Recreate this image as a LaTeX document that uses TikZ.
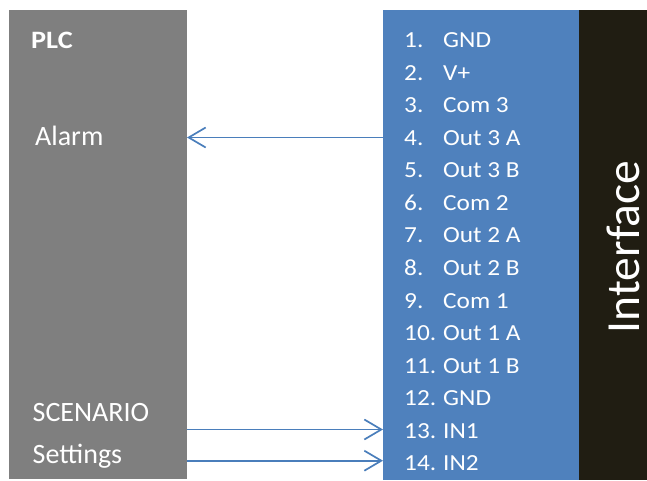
\documentclass[tikz,border=0pt]{standalone}
\usepackage{fontspec}
\setmainfont{Carlito}
\newfontfamily\listfont{Carlito}[FakeStretch=1.1]
\usetikzlibrary{arrows.meta}
\definecolor{plcgrey}{HTML}{7F7F7F}
\definecolor{ifblue}{HTML}{4F81BD}
\definecolor{ifdark}{HTML}{201D12}
\definecolor{arrblue}{HTML}{4A7EBB}
\tikzset{
  box/.style={draw=none, inner sep=0pt, outer sep=0pt},
  lbl/.style={inner sep=0pt, anchor=base west, text=white, font=\fontsize{28}{32}\selectfont},
  pinnum/.style={inner sep=0pt, anchor=base west, text=white, font=\listfont\fontsize{23}{26}\selectfont},
  pintxt/.style={inner sep=0pt, anchor=base west, text=white, font=\listfont\fontsize{23}{26}\selectfont},
  arr/.style={draw=arrblue, line width=1.7pt, -{Straight Barb[length=17pt,width=20pt]}}
}
\begin{document}
\begin{tikzpicture}[x=1pt,y=-1pt]
\useasboundingbox (0,0) rectangle (647,481);
% boxes
\node[box, fill=plcgrey, minimum width=178pt, minimum height=469pt, anchor=north west] (plc) at (9,10) {};
\node[box, fill=ifblue, minimum width=196pt, minimum height=470pt, anchor=north west] (blue) at (383,10) {};
\node[box, fill=ifdark, minimum width=68pt, minimum height=470pt, anchor=north west] (dark) at (579,10) {};
% PLC texts
\node[inner sep=0pt, anchor=base west, text=white, font=\bfseries\fontsize{25}{28}\selectfont] (plctitle) at (31,48.3) {\scalebox{1.13}[1]{PLC}};
\node[lbl] (alarm) at (35,145.7) {Alarm};
\node[lbl] (scenario) at (32.5,421.7) {SCENARIO};
\node[lbl] (settings) at (32.5,463.3) {Settings};
% pins
\foreach \i/\t in {1/GND,2/V+,3/Com 3,4/Out 3 A,5/Out 3 B,6/Com 2,7/Out 2 A,8/Out 2 B,9/Com 1,10/Out 1 A,11/Out 1 B,12/GND,13/IN1,14/IN2}{
  \pgfmathsetmacro{\yb}{47.7+32.54*(\i-1)}
  \node[pinnum] (n\i) at (404,\yb) {\i.};
  \node[pintxt] (p\i) at (443,\yb) {\t};
}
% Interface label
\node[inner sep=0pt, anchor=base, rotate=90, text=white, font=\fontsize{47.5}{50}\selectfont] (iflabel) at (639,247) {Interface};
% connectors
\coordinate (yAlarm) at (0,137.5);
\coordinate (yIn1) at (0,429.5);
\coordinate (yIn2) at (0,460.7);
\draw[arr] (blue.west |- yAlarm) -- (plc.east |- yAlarm);
\draw[arr] (plc.east |- yIn1) -- (blue.west |- yIn1);
\draw[arr] (plc.east |- yIn2) -- (blue.west |- yIn2);
\end{tikzpicture}
\end{document}
